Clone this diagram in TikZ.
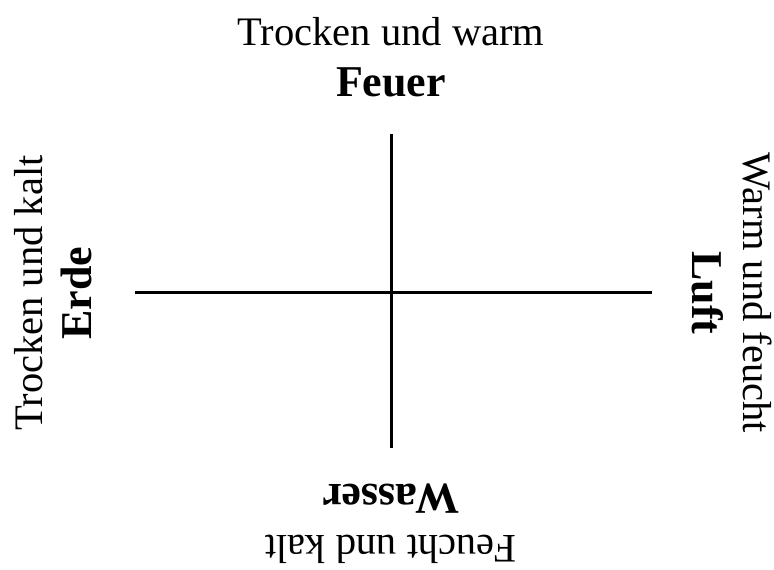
\documentclass[tikz,border=0pt]{standalone}
\usepackage{fontspec}
\setmainfont{Liberation Serif}
\begin{document}
\begin{tikzpicture}[x=1pt,y=-1pt,
  lbl/.style={inner sep=0pt,font=\fontsize{40.5}{44}\selectfont},
  blbl/.style={inner sep=0pt,font=\fontsize{44}{48}\selectfont\bfseries},
  axis/.style={line width=3pt,line cap=butt}]
\useasboundingbox (0,0) rectangle (774,570);
\coordinate (hl) at (135,292.5);
\coordinate (hr) at (652,292.5);
\coordinate (vt) at (391,134);
\coordinate (vb) at (391,448);
\draw[axis] (hl) -- (hr);
\draw[axis] (vt) -- (vb);
% top
\node[lbl,anchor=base] (t1) at (391,45) {Trocken und warm};
\node[blbl,anchor=base] (t2) at (391,96) {Feuer};
% left
\node[lbl,anchor=base,rotate=90] (l1) at (42,293) {Trocken und kalt};
\node[blbl,anchor=base,rotate=90] (l2) at (91,293) {Erde};
% right
\node[lbl,anchor=base,rotate=-90] (r1) at (743,293) {Warm und feucht};
\node[blbl,anchor=base,rotate=-90] (r2) at (692,293) {Luft};
% bottom
\node[blbl,anchor=base,rotate=180] (b1) at (391,484) {Wasser};
\node[lbl,anchor=base,rotate=180] (b2) at (391,535) {Feucht und kalt};
\end{tikzpicture}
\end{document}
